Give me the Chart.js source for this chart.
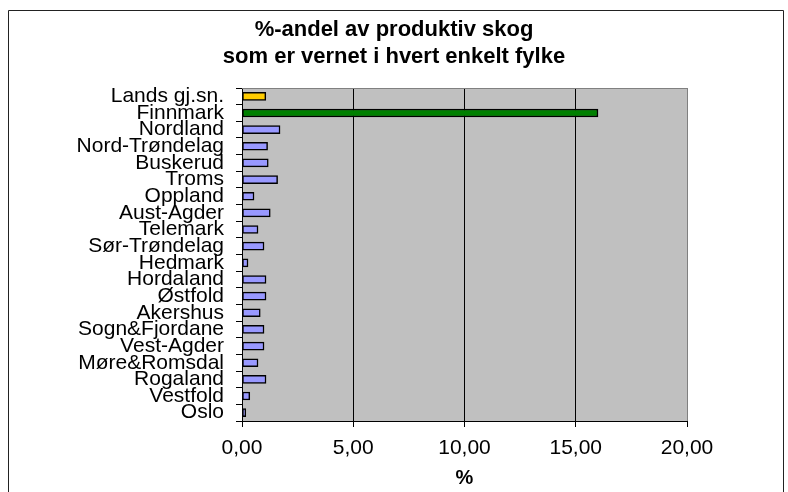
<!DOCTYPE html>
<html>
<head>
<meta charset="utf-8">
<script src="https://cdn.jsdelivr.net/npm/chart.js@4"></script>
<style>
  html, body { margin: 0; padding: 0; background: #fff; }
  #wrap { width: 788px; height: 492px; position: relative; }
</style>
</head>
<body>
<div id="wrap"><canvas id="myBarChart"></canvas></div>
<script>
const fylker = [
  "Lands gj.sn.", "Finnmark", "Nordland", "Nord-Trøndelag", "Buskerud",
  "Troms", "Oppland", "Aust-Agder", "Telemark", "Sør-Trøndelag",
  "Hedmark", "Hordaland", "Østfold", "Akershus", "Sogn&Fjordane",
  "Vest-Agder", "Møre&Romsdal", "Rogaland", "Vestfold", "Oslo"
];
const andelVernet = [
  1.07, 16.0, 1.71, 1.15, 1.18,
  1.6, 0.54, 1.27, 0.72, 0.99,
  0.27, 1.08, 1.08, 0.82, 0.99,
  0.99, 0.72, 1.08, 0.35, 0.17
];
const xTicks = [0, 5, 10, 15, 20];
const titleLines = ["%-andel av produktiv skog", "som er vernet i hvert enkelt fylke"];

const barColors = fylker.map(f =>
  f === "Lands gj.sn." ? "#FFCC00" : (f === "Finnmark" ? "#008000" : "#9999FF")
);

// grey plot area + outer frame, like the spreadsheet chart
const plotBackground = {
  id: 'plotBackground',
  beforeDraw: (chart) => {
    const { ctx, chartArea: a } = chart;
    ctx.save();
    ctx.fillStyle = '#C0C0C0';
    ctx.fillRect(a.left, a.top, a.right - a.left, a.bottom - a.top);
    ctx.restore();
  },
  afterDraw: (chart) => {
    const { ctx, chartArea: a } = chart;
    ctx.save();
    ctx.strokeStyle = '#808080';
    ctx.lineWidth = 1;
    ctx.beginPath();
    ctx.moveTo(a.left, a.top + 0.5);
    ctx.lineTo(a.right, a.top + 0.5);
    ctx.stroke();
    ctx.strokeStyle = '#222';
    ctx.beginPath();
    ctx.moveTo(8.5, 500);
    ctx.lineTo(8.5, 10.5);
    ctx.lineTo(783.5, 10.5);
    ctx.lineTo(783.5, 500);
    ctx.stroke();
    ctx.restore();
  }
};

const ctxBar = document.getElementById('myBarChart').getContext('2d');
const myBarChart = new Chart(ctxBar, {
  type: 'bar',
  data: {
    labels: fylker,
    datasets: [{
      label: '%',
      data: andelVernet,
      backgroundColor: barColors,
      borderColor: '#000',
      borderWidth: 1.5,
      borderSkipped: false,
      barThickness: 8
    }]
  },
  plugins: [plotBackground],
  options: {
    indexAxis: 'y',
    responsive: true,
    maintainAspectRatio: false,
    animation: false,
    layout: { padding: { left: 8, right: 8, top: 0, bottom: 0 } },
    plugins: {
      legend: { display: false },
      tooltip: { enabled: false },
      title: {
        display: true,
        text: titleLines,
        color: '#000',
        font: { family: 'Liberation Sans, Arial', size: 22, weight: 'bold', lineHeight: '27px' },
        padding: { top: 16, bottom: 18 }
      }
    },
    scales: {
      x: {
        min: 0,
        max: 20,
        afterBuildTicks: (scale) => { scale.ticks = xTicks.map(v => ({ value: v })); },
        afterFit: (scale) => { scale.height = 71; },
        ticks: {
          color: '#000',
          padding: 11,
          font: { family: 'Liberation Sans, Arial', size: 21, lineHeight: 1 },
          callback: (v) => Number(v).toFixed(2).replace('.', ',')
        },
        grid: {
          color: (c) => (c.tick && c.tick.value === 20 ? '#808080' : '#000'),
          tickColor: '#000',
          tickLength: 6,
          lineWidth: 1
        },
        border: { color: '#000', width: 1 },
        title: {
          display: true,
          text: '%',
          color: '#000',
          font: { family: 'Liberation Sans, Arial', size: 20, weight: 'bold', lineHeight: 1 },
          padding: { top: 0, bottom: 4 }
        }
      },
      y: {
        afterFit: (scale) => { scale.width = 234; },
        ticks: {
          color: '#000',
          padding: 12,
          autoSkip: false,
          font: { family: 'Liberation Sans, Arial', size: 21, lineHeight: 1 }
        },
        grid: {
          drawOnChartArea: false,
          color: '#000',
          tickLength: 6
        },
        border: { color: '#000', width: 1 }
      },
      // empty right axis, only keeps the white margin right of the plot
      yRight: {
        axis: 'y',
        position: 'right',
        afterFit: (scale) => { scale.width = 93; },
        ticks: { display: false },
        grid: { display: false },
        border: { display: false }
      }
    }
  }
});
</script>
</body>
</html>
